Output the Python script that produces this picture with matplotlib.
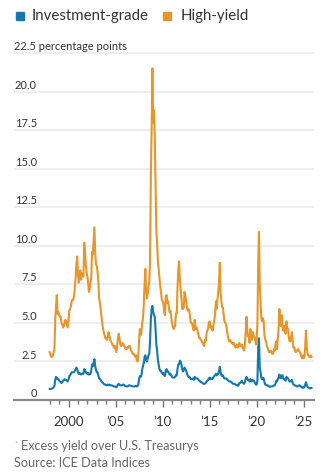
import numpy as np
from matplotlib import pyplot as plt
from matplotlib.patches import Rectangle

# Month-end spreads, percentage points, Jan 1998 .. Nov 2025
years = list(range(1998, 2026))

high_yield = [
    [3.1, 2.9, 2.8, 2.8, 2.9, 3.1, 3.3, 5.2, 6.0, 6.8, 5.6, 5.7],      # 1998
    [5.5, 5.4, 5.4, 5.0, 4.9, 4.7, 4.8, 5.0, 5.2, 5.1, 4.9, 4.7],      # 1999
    [5.2, 5.8, 5.9, 6.1, 6.4, 6.5, 6.5, 6.7, 7.3, 7.9, 8.8, 9.3],      # 2000
    [8.2, 7.6, 8.0, 8.4, 7.8, 8.2, 8.1, 8.0, 10.2, 9.6, 8.8, 8.3],     # 2001
    [8.0, 7.6, 7.0, 7.2, 7.6, 7.9, 9.6, 9.4, 10.3, 11.2, 9.6, 8.8],    # 2002
    [8.7, 8.3, 7.7, 6.6, 6.3, 5.9, 5.4, 5.0, 4.6, 4.4, 4.2, 4.0],      # 2003
    [4.0, 3.9, 4.1, 4.4, 4.2, 3.9, 3.8, 3.7, 3.6, 3.5, 3.4, 3.5],      # 2004
    [3.3, 3.1, 3.5, 4.0, 4.3, 4.0, 3.6, 3.5, 3.6, 3.7, 3.6, 3.5],      # 2005
    [3.4, 3.3, 3.3, 3.4, 3.4, 3.5, 3.5, 3.3, 3.2, 3.1, 3.0, 3.0],      # 2006
    [2.9, 2.8, 2.9, 2.6, 2.5, 2.9, 3.9, 4.6, 4.2, 4.4, 5.0, 5.3],      # 2007
    [6.2, 7.5, 8.5, 7.2, 6.6, 6.9, 7.3, 7.7, 9.0, 14.5, 17.5, 21.5],   # 2008
    [18.0, 18.8, 17.2, 14.0, 11.0, 10.2, 9.0, 8.5, 7.9, 7.4, 7.0, 6.5],  # 2009
    [6.4, 6.3, 5.7, 5.5, 6.6, 6.8, 6.3, 6.4, 6.0, 5.7, 5.8, 5.4],      # 2010
    [5.0, 4.8, 4.6, 4.7, 4.8, 5.6, 5.6, 7.3, 8.4, 9.0, 7.9, 7.2],      # 2011
    [6.6, 5.9, 5.9, 6.0, 7.0, 6.8, 6.4, 6.0, 5.8, 5.9, 5.8, 5.4],      # 2012
    [5.0, 5.0, 4.9, 4.6, 4.5, 5.2, 4.6, 4.7, 4.6, 4.4, 4.2, 4.0],      # 2013
    [4.0, 3.9, 3.8, 3.7, 3.6, 3.5, 3.9, 3.8, 4.3, 4.5, 4.6, 5.0],      # 2014
    [5.1, 4.7, 4.8, 4.6, 4.5, 4.9, 5.2, 5.6, 6.4, 5.9, 6.5, 7.0],      # 2015
    [7.6, 8.9, 7.0, 6.4, 6.0, 6.0, 5.5, 5.1, 5.0, 4.9, 4.6, 4.2],      # 2016
    [4.0, 3.8, 3.9, 3.8, 3.7, 3.7, 3.6, 3.7, 3.5, 3.4, 3.5, 3.6],      # 2017
    [3.4, 3.6, 3.7, 3.5, 3.5, 3.6, 3.4, 3.3, 3.2, 3.6, 4.3, 5.4],      # 2018
    [4.6, 4.1, 4.2, 3.7, 4.6, 4.1, 3.9, 4.4, 4.2, 4.1, 4.0, 3.6],      # 2019
    [3.9, 5.0, 8.8, 10.9, 7.5, 6.4, 5.3, 5.1, 5.3, 5.1, 4.2, 3.9],     # 2020
    [3.8, 3.5, 3.4, 3.2, 3.1, 3.1, 3.2, 3.1, 3.0, 3.0, 3.3, 3.2],      # 2021
    [3.6, 3.8, 3.3, 4.0, 4.6, 5.9, 5.0, 4.8, 5.5, 4.8, 4.5, 4.8],      # 2022
    [4.5, 4.3, 5.1, 4.7, 4.6, 4.1, 3.8, 3.8, 4.1, 4.4, 3.8, 3.4],      # 2023
    [3.4, 3.2, 3.1, 3.2, 3.2, 3.3, 3.2, 3.1, 3.0, 2.8, 2.7, 2.9],      # 2024
    [2.7, 2.8, 3.5, 4.5, 3.4, 3.0, 2.9, 2.8, 2.8, 2.9, 2.8],           # 2025
]

investment_grade = [
    [0.72, 0.72, 0.73, 0.75, 0.78, 0.85, 0.9, 1.3, 1.5, 1.45, 1.35, 1.35],
    [1.25, 1.2, 1.15, 1.1, 1.15, 1.25, 1.3, 1.35, 1.3, 1.3, 1.25, 1.2],
    [1.35, 1.55, 1.6, 1.7, 1.8, 1.8, 1.8, 1.8, 1.9, 2.0, 2.1, 2.0],
    [1.8, 1.7, 1.75, 1.7, 1.65, 1.7, 1.7, 1.7, 2.0, 1.95, 1.8, 1.75],
    [1.7, 1.75, 1.65, 1.65, 1.7, 1.9, 2.3, 2.2, 2.4, 2.65, 2.2, 1.95],
    [1.8, 1.8, 1.6, 1.4, 1.35, 1.3, 1.2, 1.15, 1.1, 1.05, 1.0, 1.0],
    [0.95, 0.98, 1.0, 0.95, 1.0, 0.97, 0.95, 0.95, 0.93, 0.9, 0.88, 0.88],
    [0.85, 0.82, 0.9, 1.0, 1.05, 1.0, 0.95, 0.95, 0.95, 0.98, 1.0, 0.98],
    [0.92, 0.9, 0.88, 0.88, 0.9, 0.95, 0.95, 0.93, 0.92, 0.9, 0.88, 0.88],
    [0.88, 0.9, 0.92, 0.88, 0.9, 1.0, 1.35, 1.55, 1.5, 1.6, 2.0, 2.2],
    [2.4, 2.8, 2.9, 2.6, 2.5, 2.7, 2.9, 3.0, 3.8, 5.2, 5.9, 6.1],
    [5.7, 5.5, 5.4, 4.6, 3.6, 3.2, 2.6, 2.3, 2.0, 1.9, 1.9, 1.75],
    [1.7, 1.75, 1.6, 1.55, 1.9, 2.0, 1.85, 1.85, 1.75, 1.65, 1.7, 1.6],
    [1.5, 1.45, 1.45, 1.45, 1.5, 1.6, 1.6, 2.0, 2.3, 2.3, 2.55, 2.5],
    [2.3, 2.0, 1.85, 1.95, 2.1, 2.0, 1.9, 1.75, 1.6, 1.5, 1.5, 1.45],
    [1.35, 1.35, 1.4, 1.35, 1.3, 1.5, 1.4, 1.4, 1.4, 1.35, 1.3, 1.25],
    [1.2, 1.15, 1.15, 1.1, 1.05, 1.05, 1.05, 1.1, 1.2, 1.25, 1.3, 1.4],
    [1.45, 1.35, 1.4, 1.35, 1.4, 1.5, 1.55, 1.6, 1.7, 1.6, 1.65, 1.7],
    [1.85, 2.15, 1.8, 1.6, 1.55, 1.6, 1.45, 1.4, 1.4, 1.4, 1.35, 1.3],
    [1.25, 1.2, 1.2, 1.2, 1.15, 1.1, 1.05, 1.05, 1.05, 1.0, 0.98, 0.95],
    [0.92, 0.98, 1.1, 1.1, 1.15, 1.25, 1.15, 1.1, 1.05, 1.15, 1.35, 1.5],
    [1.4, 1.3, 1.3, 1.2, 1.35, 1.25, 1.2, 1.3, 1.25, 1.2, 1.1, 1.0],
    [1.0, 1.25, 3.4, 4.0, 2.1, 1.8, 1.45, 1.35, 1.45, 1.4, 1.15, 1.0],
    [1.0, 0.95, 0.95, 0.9, 0.88, 0.85, 0.88, 0.88, 0.88, 0.9, 0.95, 0.95],
    [1.05, 1.25, 1.2, 1.35, 1.45, 1.65, 1.45, 1.4, 1.6, 1.6, 1.4, 1.35],
    [1.3, 1.25, 1.5, 1.45, 1.4, 1.3, 1.2, 1.2, 1.25, 1.3, 1.1, 1.0],
    [0.98, 0.93, 0.92, 0.9, 0.88, 0.9, 0.95, 0.95, 0.9, 0.85, 0.8, 0.82],
    [0.8, 0.85, 1.0, 1.15, 0.95, 0.85, 0.8, 0.78, 0.75, 0.78, 0.78],
]

y_ticks = [2.5, 5.0, 7.5, 10.0, 12.5, 15.0, 17.5, 20.0, 22.5]
x_ticks = [2000, 2005, 2010, 2015, 2020, 2025]
x_labels = ["2000", "\u201905", "\u201910", "\u201915", "\u201920", "\u201925"]

BLUE = "#1479b0"
ORANGE = "#e8962a"
TEXT = "#333333"

plt.rcParams["font.family"] = ["Lato", "DejaVu Sans"]

# month positions along the year axis
t = np.concatenate([y + np.arange(len(m)) / 12 for y, m in zip(years, high_yield)])
hy = np.concatenate(high_yield)
ig = np.concatenate(investment_grade)

W, H = 332, 477
fig = plt.figure(figsize=(W / 100, H / 100), dpi=100)
ax = fig.add_axes([14 / W, 76 / H, 300 / W, 350 / H])

ax.plot(t, hy, color=ORANGE, lw=1.5, solid_joinstyle="round")
ax.plot(t, ig, color=BLUE, lw=1.5, solid_joinstyle="round")

ax.set_xlim(1994.2, 2026.1)
ax.set_ylim(0, 22.5 * 350 / 347)

for s in ("left", "right", "top"):
    ax.spines[s].set_visible(False)
ax.spines["bottom"].set_color("#888888")
ax.spines["bottom"].set_linewidth(1.6)

ax.set_yticks(y_ticks)
ax.tick_params(axis="y", length=0, labelleft=False)
ax.grid(axis="y", color="#eeeeee", lw=1.5)
ax.set_axisbelow(True)

ax.set_xticks(x_ticks)
ax.set_xticklabels(x_labels, fontsize=9.5, color=TEXT)
ax.set_xticks([y for y in years if y not in x_ticks], minor=True)
ax.tick_params(axis="x", which="major", length=5, width=1, color="#777777", pad=6)
ax.tick_params(axis="x", which="minor", length=3, width=1, color="#777777")

# y labels sit above their gridlines
ytf = ax.get_yaxis_transform()
for v in [0] + y_ticks[:-1]:
    lab = "0" if v == 0 else f"{v:.1f}"
    ax.text(23 / 300, v + 0.12, lab, transform=ytf, ha="right", va="bottom",
            fontsize=8, color=TEXT)
ax.text(0, 22.62, "22.5 percentage points", transform=ytf, ha="left",
        va="bottom", fontsize=8, color=TEXT)

# legend
fig.patches.append(Rectangle((16 / W, 1 - 20.5 / H), 8 / W, 8 / H,
                             transform=fig.transFigure, color=BLUE))
fig.text(32 / W, 1 - 16 / H, "Investment-grade", fontsize=10.8, color=TEXT,
         va="center", ha="left")
fig.patches.append(Rectangle((163 / W, 1 - 20.5 / H), 8 / W, 8 / H,
                             transform=fig.transFigure, color=ORANGE))
fig.text(181 / W, 1 - 16 / H, "High-yield", fontsize=10.8, color=TEXT,
         va="center", ha="left")

# notes
fig.text(14 / W, 1 - 444 / H, "*", fontsize=6, color="#aaaaaa", va="center")
fig.text(21 / W, 1 - 446 / H, "Excess yield over U.S. Treasurys", fontsize=9.1,
         color="#666666", va="center")
fig.text(14 / W, 1 - 463 / H, "Source: ICE Data Indices", fontsize=9.1,
         color="#666666", va="center")

fig.savefig("out.png", dpi=100)
